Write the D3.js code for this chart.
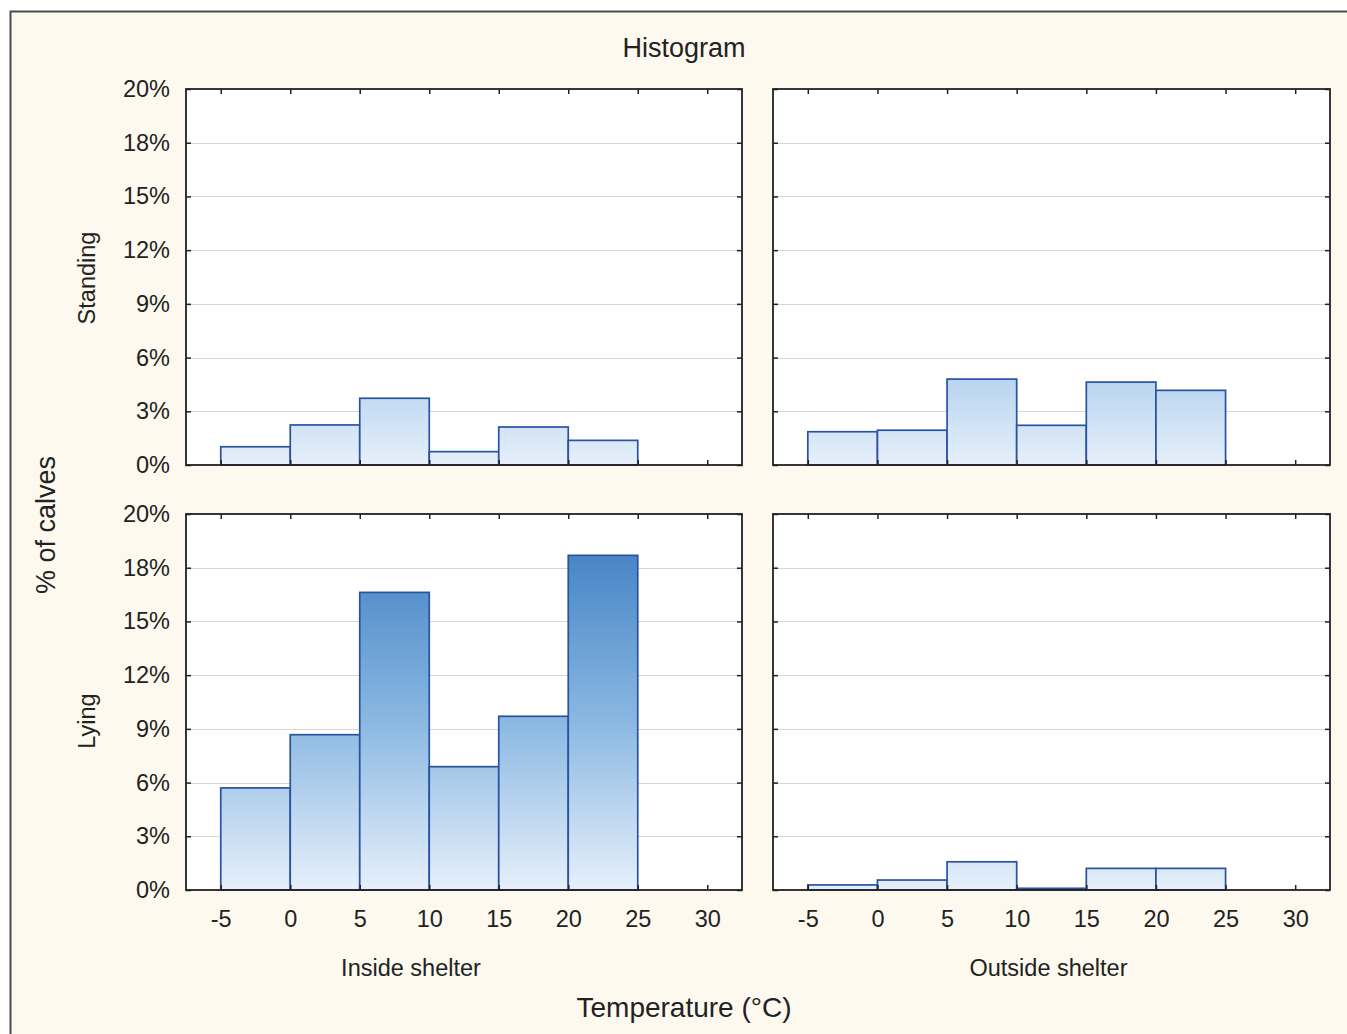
<!DOCTYPE html>
<html>
<head>
<meta charset="utf-8">
<script src="https://cdn.jsdelivr.net/npm/d3@7"></script>
<style>
  body { margin: 0; background: #ffffff; }
  text { font-family: "Liberation Sans", Arial, sans-serif; fill: #222; }
</style>
</head>
<body>
<div id="chart"></div>
<script>
(function() {
  // bin starts (each bin is 5 degrees wide)
  var binStarts = [-5, 0, 5, 10, 15, 20];
  var binWidth = 5;

  // % of calves per bin
  var standingInside  = [0.97, 2.13, 3.55, 0.71, 2.02, 1.31];
  var standingOutside = [1.77, 1.85, 4.57, 2.11, 4.41, 3.97];
  var lyingInside     = [5.43, 8.26, 15.83, 6.56, 9.24, 17.8];
  var lyingOutside    = [0.27, 0.53, 1.50, 0.09, 1.15, 1.15];

  var rowNames = ["Standing", "Lying"];
  var colNames = ["Inside shelter", "Outside shelter"];
  var xTicks = [-5, 0, 5, 10, 15, 20, 25, 30];
  var yTickLabels = ["0%", "3%", "6%", "9%", "12%", "15%", "18%", "20%"];

  var panelData = [
    [standingInside, standingOutside],
    [lyingInside, lyingOutside]
  ];

  var W = 1347, H = 1034;
  var colX = [186, 773], colW = [556, 557];
  var rowY = [89, 514], panelH = 376;

  var svg = d3.select("#chart")
    .append("svg")
    .attr("width", W)
    .attr("height", H);

  // cream background + outer frame (right and bottom edges run off the picture)
  svg.append("rect")
    .attr("x", 10).attr("y", 11)
    .attr("width", W).attr("height", H)
    .attr("fill", "#fdf9ee");
  svg.append("path")
    .attr("d", "M10.5," + (H + 5) + "V11.5H" + (W + 5))
    .attr("fill", "none")
    .attr("stroke", "#4a4a4a")
    .attr("stroke-width", 2);

  var defs = svg.append("defs");
  var grad = defs.append("linearGradient")
    .attr("id", "barGrad")
    .attr("gradientUnits", "userSpaceOnUse")
    .attr("x1", 0).attr("y1", 0)
    .attr("x2", 0).attr("y2", panelH);
  [[0, "#3f76bd"], [0.2, "#5590cc"], [0.55, "#8ab8e2"], [0.82, "#c2daf1"], [1, "#e6f0fb"]]
    .forEach(function(s) {
      grad.append("stop").attr("offset", s[0]).attr("stop-color", s[1]);
    });

  var yTickValues = yTickLabels.map(function(d, i) { return i * 20 / 7; });
  var yScale = d3.scaleLinear().domain([0, 20]).range([panelH, 0]);

  rowNames.forEach(function(rowName, r) {
    colNames.forEach(function(colName, c) {
      var w = colW[c];
      var xScale = d3.scaleLinear().domain([-7.5, 32.5]).range([0, w]);
      var values = panelData[r][c];

      var g = svg.append("g")
        .attr("transform", "translate(" + colX[c] + "," + rowY[r] + ")");

      g.append("rect")
        .attr("width", w).attr("height", panelH)
        .attr("fill", "#ffffff");

      // grid lines
      g.selectAll(".grid")
        .data(yTickValues.slice(1, -1))
        .enter().append("line")
        .attr("class", "grid")
        .attr("x1", 0).attr("x2", w)
        .attr("y1", function(d) { return Math.round(yScale(d)) + 0.5; })
        .attr("y2", function(d) { return Math.round(yScale(d)) + 0.5; })
        .attr("stroke", "#d6d6d6")
        .attr("stroke-width", 1.2);

      // bars
      g.selectAll(".bar")
        .data(values)
        .enter().append("rect")
        .attr("class", "bar")
        .attr("x", function(d, i) { return xScale(binStarts[i]); })
        .attr("width", function(d, i) { return xScale(binStarts[i] + binWidth) - xScale(binStarts[i]); })
        .attr("y", function(d) { return yScale(d); })
        .attr("height", function(d) { return yScale(0) - yScale(d); })
        .attr("fill", "url(#barGrad)")
        .attr("stroke", "#2a52a3")
        .attr("stroke-width", 1.7);

      // axes, ticks all pointing inwards
      var left = d3.axisLeft(yScale).tickValues(yTickValues).tickSize(-5).tickSizeOuter(0).tickPadding(16)
        .tickFormat(function(d, i) { return c === 0 ? yTickLabels[i] : ""; });
      var right = d3.axisRight(yScale).tickValues(yTickValues).tickSize(-5).tickSizeOuter(0).tickFormat("");
      var bottom = d3.axisBottom(xScale).tickValues(xTicks).tickSize(-5).tickSizeOuter(0).tickPadding(20)
        .tickFormat(function(d) { return r === 1 ? d : ""; });
      var top = d3.axisTop(xScale).tickValues(xTicks).tickSize(-5).tickSizeOuter(0).tickFormat("");

      var axes = [
        g.append("g").attr("class", "y-axis").call(left),
        g.append("g").attr("transform", "translate(" + w + ",0)").call(right),
        g.append("g").attr("class", "x-axis").attr("transform", "translate(0," + panelH + ")").call(bottom),
        g.append("g").call(top)
      ];
      axes.forEach(function(a) {
        a.select(".domain").remove();
        a.selectAll("line").attr("stroke", "#222").attr("stroke-width", 1.5);
        a.selectAll("text")
          .style("font-size", "23.5px")
          .style("font-family", "'Liberation Sans', Arial, sans-serif")
          .attr("fill", "#222");
      });

      // panel frame
      g.append("rect")
        .attr("width", w).attr("height", panelH)
        .attr("fill", "none")
        .attr("stroke", "#222")
        .attr("stroke-width", 1.8);

      // row labels
      if (c === 0) {
        svg.append("text")
          .attr("transform", "translate(95," + (rowY[r] + (r === 0 ? 189 : 207)) + ") rotate(-90)")
          .style("text-anchor", "middle")
          .style("font-size", "23.5px")
          .text(rowName);
      }
      // column labels
      if (r === 1) {
        svg.append("text")
          .attr("x", colX[c] + w / 2 - (c === 0 ? 53 : 3))
          .attr("y", 976)
          .style("text-anchor", "middle")
          .style("font-size", "23.5px")
          .text(colName);
      }
    });
  });

  svg.append("text")
    .attr("x", 684).attr("y", 57)
    .style("text-anchor", "middle")
    .style("font-size", "27px")
    .text("Histogram");

  svg.append("text")
    .attr("x", 684).attr("y", 1017)
    .style("text-anchor", "middle")
    .style("font-size", "28px")
    .text("Temperature (°C)");

  svg.append("text")
    .attr("transform", "translate(55,525) rotate(-90)")
    .style("text-anchor", "middle")
    .style("font-size", "27px")
    .text("% of calves");
})();
</script>
</body>
</html>
